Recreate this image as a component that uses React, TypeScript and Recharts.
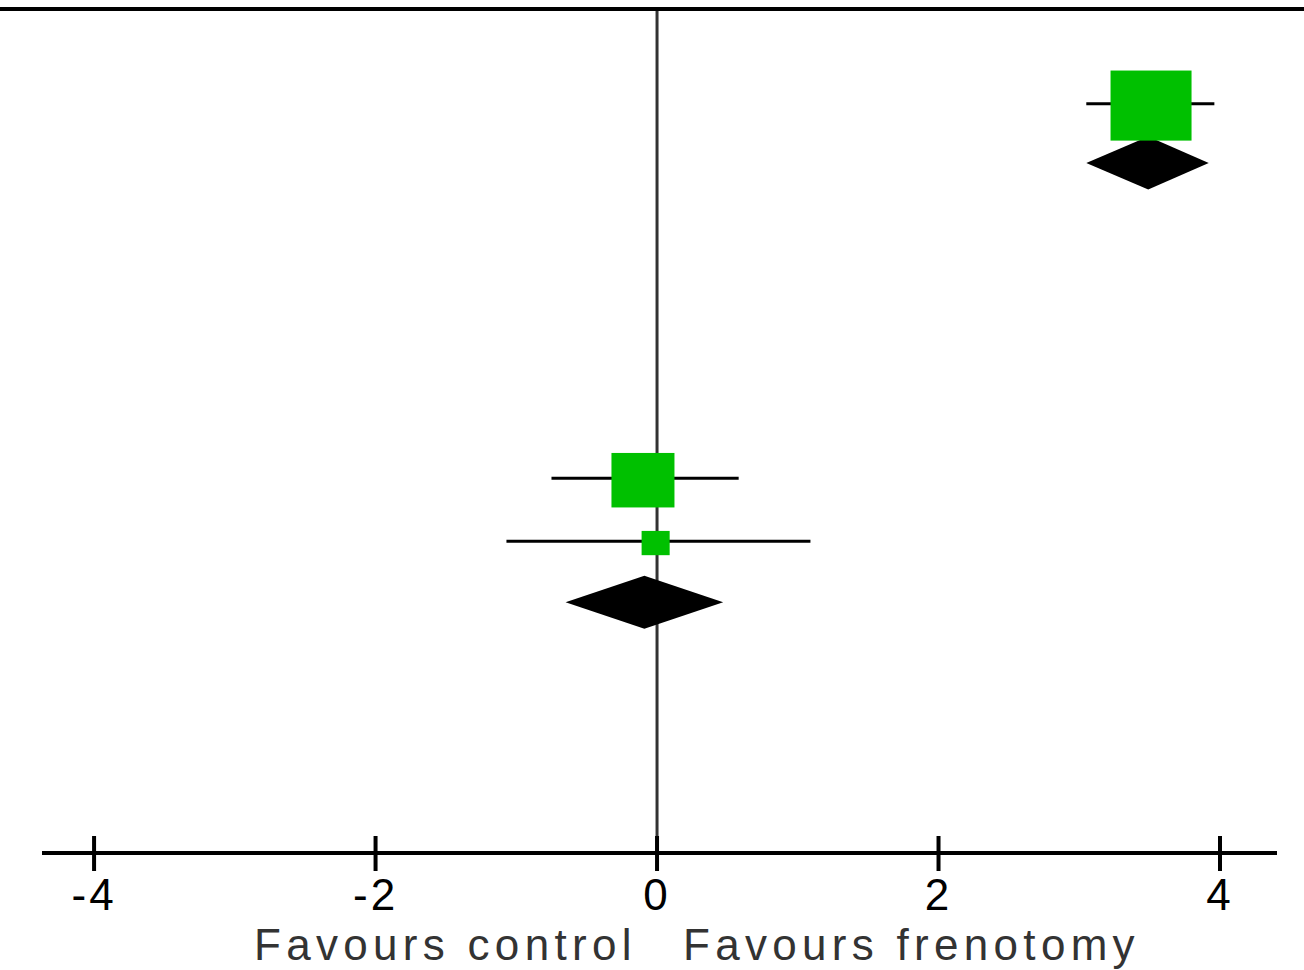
import { ScatterChart, Scatter, XAxis, YAxis, ReferenceLine } from "recharts";

// individual studies (mean difference, 95% CI) and row position in the plot
const studyNames = ["Study 1", "Study 2", "Study 3"];
const studyRow = [1.55, 7.69, 8.72];
const studyEst = [3.51, -0.1, -0.01];
const studyLow = [3.05, -0.75, -1.07];
const studyHigh = [3.96, 0.58, 1.09];
const studyWeight = [100, 60.5, 12];

// pooled subgroup estimates (diamonds)
const pooledRow = [2.49, 9.69];
const pooledEst = [3.49, -0.09];
const pooledLow = [3.05, -0.65];
const pooledHigh = [3.92, 0.47];

const xTicks = [-4, -2, 0, 2, 4];
const xDomain = [-4.37, 4.405];
const rowDomain = [0, 13.8];

const GREEN = "#00c000";
const BOX = 81;

const points = studyNames.map((name, i) => ({
  name,
  x: studyEst[i],
  y: studyRow[i],
  w: studyWeight[i],
}));

const WeightBox = (p: any) => {
  const { cx, cy, payload } = p;
  const w = BOX * Math.sqrt(payload.w / 100);
  const h = w * 0.865;
  return <rect x={cx - w / 2} y={cy - h / 2} width={w} height={h} fill={GREEN} />;
};

const diamondShape = (i: number) => (p: any) => {
  const { x1, x2, y1 } = p;
  const lo = pooledLow[i];
  const hi = pooledHigh[i];
  const apex = x1 + ((pooledEst[i] - lo) / (hi - lo)) * (x2 - x1);
  const hh = 26.5;
  return (
    <polygon
      points={`${x1},${y1} ${apex},${y1 - hh} ${x2},${y1} ${apex},${y1 + hh}`}
      fill="#000"
    />
  );
};

const AxisTick = (p: any) => {
  const { x, y, payload } = p;
  return (
    <g>
      <line x1={x} x2={x} y1={y - 17} y2={y + 18} stroke="#000" strokeWidth={4} />
      <text
        x={x}
        y={y + 57}
        textAnchor="middle"
        fontSize={44}
        fontFamily="Liberation Sans, Arial, sans-serif"
        letterSpacing={3}
        fill="#000"
      >
        {payload.value}
      </text>
    </g>
  );
};

const labelStyle: React.CSSProperties = {
  position: "absolute",
  top: 925,
  fontSize: 44,
  lineHeight: "40px",
  fontFamily: "Liberation Sans, Arial, sans-serif",
  letterSpacing: 5.3,
  color: "#333",
  whiteSpace: "nowrap",
};

export default function App() {
  return (
    <div
      style={{
        position: "absolute",
        left: 0,
        top: 0,
        width: 1304,
        height: 970,
        background: "#fff",
        overflow: "hidden",
      }}
    >
      <div
        style={{ position: "absolute", left: 0, top: 7, width: 1304, height: 4, background: "#000" }}
      />
      <ScatterChart
        width={1304}
        height={970}
        margin={{ top: 11, right: 27, bottom: 0, left: 42 }}
      >
        <XAxis
          type="number"
          dataKey="x"
          domain={xDomain}
          ticks={xTicks}
          allowDataOverflow
          height={117}
          tickSize={0}
          tickMargin={0}
          tickLine={false}
          axisLine={{ stroke: "#000", strokeWidth: 4 }}
          tick={AxisTick}
        />
        <YAxis type="number" dataKey="y" domain={rowDomain} reversed hide />
        <ReferenceLine x={0} stroke="#333" strokeWidth={3} />
        {studyNames.map((n, i) => (
          <ReferenceLine
            key={n}
            segment={[
              { x: studyLow[i], y: studyRow[i] - 0.03 },
              { x: studyHigh[i], y: studyRow[i] - 0.03 },
            ]}
            stroke="#000"
            strokeWidth={3}
          />
        ))}
        {pooledRow.map((r, i) => (
          <ReferenceLine
            key={"pooled" + i}
            segment={[
              { x: pooledLow[i], y: r },
              { x: pooledHigh[i], y: r },
            ]}
            shape={diamondShape(i)}
          />
        ))}
        <Scatter data={points} shape={WeightBox} isAnimationActive={false} />
      </ScatterChart>
      <div style={{ ...labelStyle, left: 254 }}>Favours control</div>
      <div style={{ ...labelStyle, left: 683 }}>Favours frenotomy</div>
    </div>
  );
}
